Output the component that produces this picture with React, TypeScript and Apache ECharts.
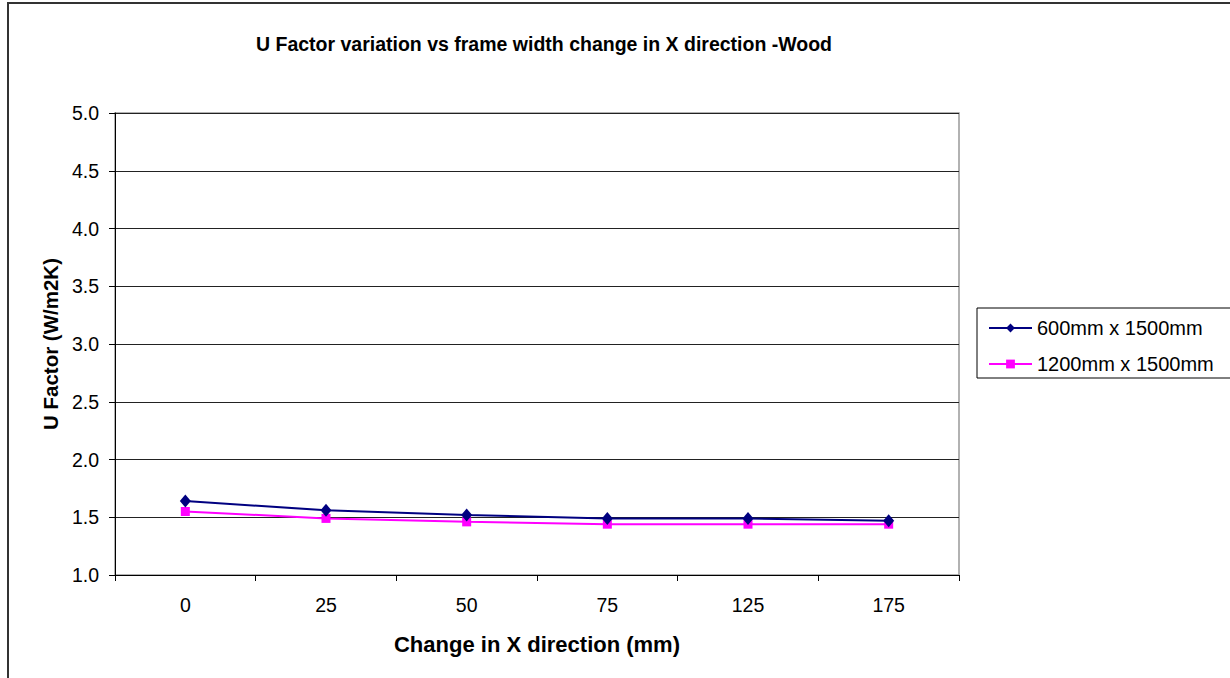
import React, { useEffect, useRef } from "react";
import * as echarts from "echarts";

const categories = ["0", "25", "50", "75", "125", "175"];
const series600 = [1.64, 1.56, 1.52, 1.49, 1.49, 1.47];
const series1200 = [1.55, 1.49, 1.46, 1.44, 1.44, 1.44];
const seriesNames = ["600mm x 1500mm", "1200mm x 1500mm"];
const titleText = "U Factor variation vs frame width change in X direction -Wood";
const xAxisTitle = "Change in X direction (mm)";
const yAxisTitle = "U Factor (W/m2K)";

const FONT = "'Liberation Sans', Arial, sans-serif";

export default function App() {
  const ref = useRef<HTMLDivElement>(null);
  useEffect(() => {
    if (!ref.current) return;
    const chart = echarts.init(ref.current, undefined, { renderer: "svg" });
    chart.setOption({
      animation: false,
      backgroundColor: "#fff",
      textStyle: { fontFamily: FONT },
      title: {
        text: titleText,
        left: 539,
        top: 29,
        textAlign: "center",
        textStyle: { fontFamily: FONT, fontSize: 19.5, fontWeight: "bold", color: "#000" },
      },
      graphic: [
        {
          type: "rect",
          shape: { x: 8, y: 3, width: 1250, height: 700 },
          style: { fill: "none", stroke: "#333", lineWidth: 2 },
          silent: true,
        },
        {
          type: "rect",
          shape: { x: 977, y: 308, width: 270, height: 70 },
          style: { fill: "#fff", stroke: "#000", lineWidth: 1 },
          silent: true,
          z: 0,
        },
        {
          type: "rect",
          shape: { x: 115, y: 113, width: 844, height: 462 },
          style: { fill: "none", stroke: "#999", lineWidth: 1.5 },
          silent: true,
          z: 0,
        },
      ],
      legend: {
        orient: "vertical",
        left: 983,
        top: 313,
        itemGap: 16,
        itemWidth: 43,
        itemHeight: 11,
        data: seriesNames,
        textStyle: { fontFamily: FONT, fontSize: 20, color: "#000" },
        z: 10,
      },
      grid: { left: 115, top: 113, width: 844, height: 462, containLabel: false },
      xAxis: {
        type: "category",
        data: categories,
        boundaryGap: true,
        axisLine: { show: true, lineStyle: { color: "#000", width: 1 } },
        axisTick: { show: true, length: 6, interval: 0, lineStyle: { color: "#000" } },
        axisLabel: { fontFamily: FONT, fontSize: 19.5, color: "#000", margin: 20 },
        name: xAxisTitle,
        nameLocation: "middle",
        nameGap: 58,
        nameTextStyle: { fontFamily: FONT, fontSize: 22, fontWeight: "bold", color: "#000" },
        splitLine: { show: false },
      },
      yAxis: {
        type: "value",
        min: 1,
        max: 5,
        interval: 0.5,
        axisLine: { show: true, lineStyle: { color: "#000", width: 1 } },
        axisTick: { show: true, length: 6, lineStyle: { color: "#000" } },
        axisLabel: {
          fontFamily: FONT,
          fontSize: 19.5,
          color: "#000",
          margin: 16,
          formatter: (v: number) => v.toFixed(1),
        },
        splitLine: { show: true, lineStyle: { color: "#222", width: 1 } },
        name: yAxisTitle,
        nameLocation: "middle",
        nameGap: 50,
        nameTextStyle: { fontFamily: FONT, fontSize: 20.5, fontWeight: "bold", color: "#000" },
      },
      series: [
        {
          name: seriesNames[0],
          type: "line",
          data: series600,
          symbol: "diamond",
          symbolSize: [11, 13],
          lineStyle: { color: "#000080", width: 2 },
          itemStyle: { color: "#000080" },
          z: 3,
        },
        {
          name: seriesNames[1],
          type: "line",
          data: series1200,
          symbol: "rect",
          symbolSize: 9,
          lineStyle: { color: "#FF00FF", width: 2 },
          itemStyle: { color: "#FF00FF" },
          z: 2,
        },
      ],
    });
    return () => chart.dispose();
  }, []);
  return (
    <div
      ref={ref}
      style={{ position: "fixed", left: 0, top: 0, width: 1230, height: 678 }}
    />
  );
}
